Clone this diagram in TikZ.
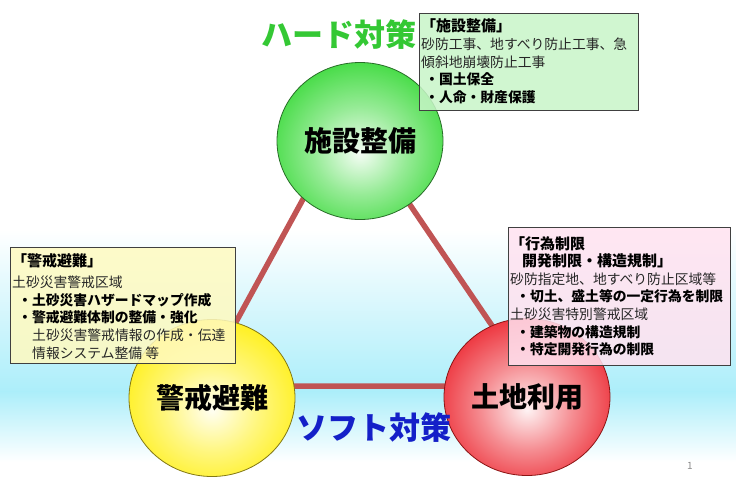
\documentclass[tikz,border=0pt]{standalone}
\usepackage{fontspec}
\setmainfont{Noto Sans CJK JP}
\usetikzlibrary{shapes.geometric}
\definecolor{bgcyan}{RGB}{172,238,250}
\definecolor{ballgreen}{RGB}{45,215,45}
\definecolor{ballyellow}{RGB}{255,238,0}
\definecolor{ballred}{RGB}{235,25,35}
\definecolor{linegreen}{RGB}{40,110,40}
\definecolor{lineyellow}{RGB}{130,120,20}
\definecolor{linered}{RGB}{140,20,20}
\definecolor{trired}{RGB}{192,84,84}
\definecolor{boxgreen}{RGB}{200,245,200}
\definecolor{boxyellow}{RGB}{255,250,192}
\definecolor{boxpink}{RGB}{255,226,240}
\definecolor{hardgreen}{RGB}{52,200,52}
\definecolor{softblue}{RGB}{20,32,200}
\pgfdeclareradialshading{ballG}{\pgfpoint{0bp}{-4bp}}{color(0bp)=(ballgreen!5!white); color(14bp)=(ballgreen!50!white); color(32bp)=(ballgreen); color(60bp)=(ballgreen)}
\pgfdeclareradialshading{ballY}{\pgfpoint{0bp}{-4bp}}{color(0bp)=(ballyellow!5!white); color(14bp)=(ballyellow!50!white); color(32bp)=(ballyellow); color(60bp)=(ballyellow)}
\pgfdeclareradialshading{ballR}{\pgfpoint{0bp}{-4bp}}{color(0bp)=(ballred!5!white); color(14bp)=(ballred!50!white); color(32bp)=(ballred); color(60bp)=(ballred)}
\tikzset{
  ball/.style={ellipse, minimum width=166pt, minimum height=157pt, inner sep=0pt,
    line width=0.8pt, font=\fontsize{28}{28}\selectfont\bfseries, text=black},
  tri/.style={draw=trired, line width=5.5pt},
  infobox/.style={draw=black!75, line width=0.8pt, fill opacity=0.85, anchor=north west,
    inner sep=0pt, rectangle},
  boxtext/.style={anchor=north west, inner sep=0pt, align=left, text=black!85,
    font=\fontsize{13.8}{17.6}\selectfont},
  headline/.style={font=\fontsize{31}{31}\selectfont\bfseries, inner sep=0pt}
}
\newcommand{\ttlfont}{\fontsize{15}{19}\selectfont\bfseries\color{black}}
\newcommand{\bul}[1]{{\bfseries\color{black}#1}}
\begin{document}
\begin{tikzpicture}[x=1pt,y=-1pt]
\useasboundingbox (0,0) rectangle (736,491);
\fill[white] (0,0) rectangle (736,491);
\shade[top color=white, bottom color=bgcyan] (0,230) rectangle (736,392);
\shade[top color=bgcyan, bottom color=white] (0,391.5) rectangle (736,462);
% triangle
\coordinate (tTop) at (349,115);
\coordinate (tLeft) at (201,386);
\coordinate (tRight) at (533,386);
\draw[tri] (tTop) -- (tLeft) -- (tRight) -- cycle;
% balls
\node[ball, shading=ballG, draw=linegreen] (g) at (360,141) {施設整備};
\node[ball, shading=ballY, draw=lineyellow] (y) at (212,398) {警戒避難};
\node[ball, shading=ballR, draw=linered] (r) at (527,397) {土地利用};
% boxes
\node[infobox, fill=boxgreen, minimum width=219pt, minimum height=97pt] (gbox) at (419,13) {};
\node[boxtext] (gtext) at (421,18) {{\ttlfont 「施設整備」}\\[1pt]
砂防工事、地すべり防止工事、急\\
傾斜地崩壊防止工事\\
\hspace*{4pt}\bul{・国土保全}\\
\hspace*{4pt}\bul{・人命・財産保護}};
\node[infobox, fill=boxyellow, minimum width=225pt, minimum height=116pt] (ybox) at (10,247) {};
\node[boxtext] (ytext) at (12,253) {{\ttlfont 「警戒避難」}\\[4pt]
土砂災害警戒区域\\
\hspace*{6pt}\bul{・土砂災害ハザードマップ作成}\\
\hspace*{6pt}\bul{・警戒避難体制の整備・強化}\\
\hspace*{20pt}土砂災害警戒情報の作成・伝達\\
\hspace*{20pt}情報システム整備 等};
\node[infobox, fill=boxpink, minimum width=222pt, minimum height=138pt] (pbox) at (508,227) {};
\node[boxtext] (ptext) at (510,236) {{\ttlfont 「行為制限}\\
{\ttlfont\hspace*{12pt}開発制限・構造規制」}\\
砂防指定地、地すべり防止区域等\\
\hspace*{6pt}\bul{・切土、盛土等の一定行為を制限}\\
土砂災害特別警戒区域\\
\hspace*{6pt}\bul{・建築物の構造規制}\\
\hspace*{6pt}\bul{・特定開発行為の制限}};
% headlines
\node[headline, text=hardgreen] (hard) at (339,35) {ハード対策};
\node[headline, text=softblue] (soft) at (374,428) {ソフト対策};
\node[font=\fontsize{10}{10}\selectfont, text=black!45, inner sep=0pt] (pg) at (690,466) {1};
\end{tikzpicture}
\end{document}
